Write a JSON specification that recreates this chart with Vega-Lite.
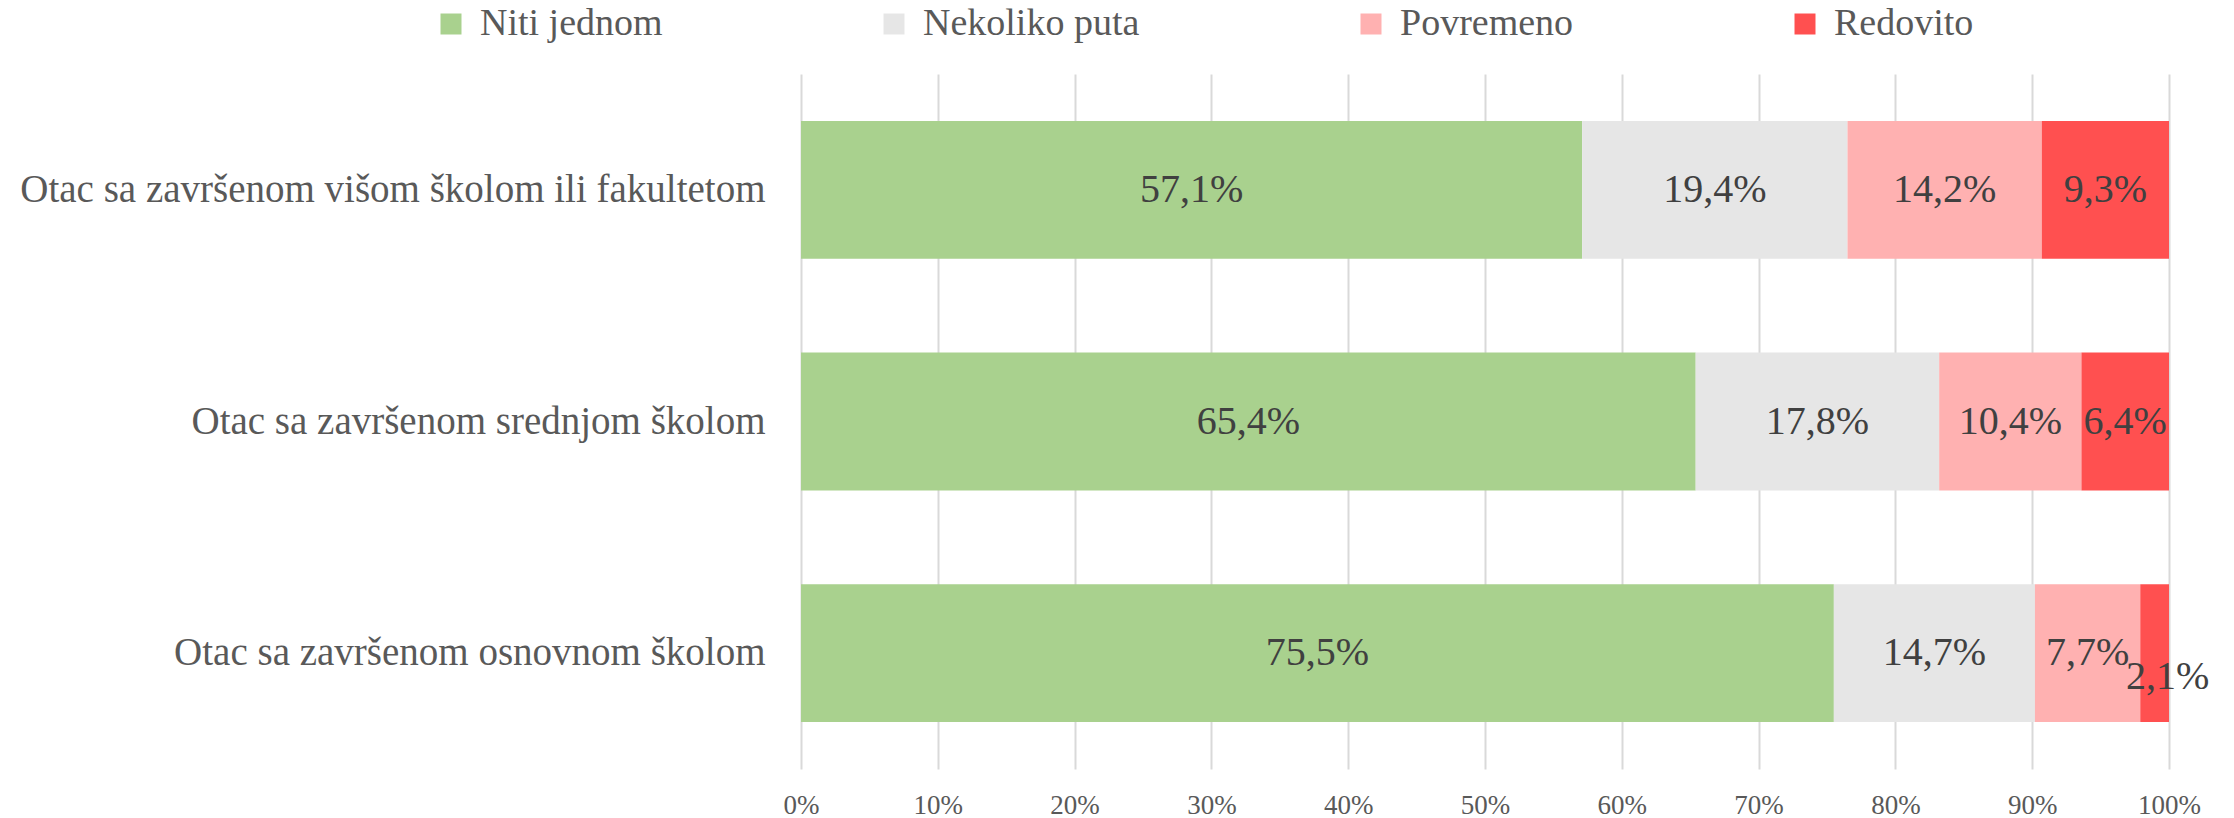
{
  "$schema": "https://vega.github.io/schema/vega-lite/v6.json",
  "width": 1368,
  "height": 695,
  "autosize": "none",
  "padding": {"left": 801, "top": 74, "right": 65, "bottom": 49},
  "background": "white",
  "data": {
    "values": [
      {"grupa": "Otac sa završenom višom školom ili fakultetom", "odgovor": "Niti jednom", "red": 1, "v": 0.571},
      {"grupa": "Otac sa završenom višom školom ili fakultetom", "odgovor": "Nekoliko puta", "red": 2, "v": 0.194},
      {"grupa": "Otac sa završenom višom školom ili fakultetom", "odgovor": "Povremeno", "red": 3, "v": 0.142},
      {"grupa": "Otac sa završenom višom školom ili fakultetom", "odgovor": "Redovito", "red": 4, "v": 0.093},
      {"grupa": "Otac sa završenom srednjom školom", "odgovor": "Niti jednom", "red": 1, "v": 0.654},
      {"grupa": "Otac sa završenom srednjom školom", "odgovor": "Nekoliko puta", "red": 2, "v": 0.178},
      {"grupa": "Otac sa završenom srednjom školom", "odgovor": "Povremeno", "red": 3, "v": 0.104},
      {"grupa": "Otac sa završenom srednjom školom", "odgovor": "Redovito", "red": 4, "v": 0.064},
      {"grupa": "Otac sa završenom osnovnom školom", "odgovor": "Niti jednom", "red": 1, "v": 0.755},
      {"grupa": "Otac sa završenom osnovnom školom", "odgovor": "Nekoliko puta", "red": 2, "v": 0.147},
      {"grupa": "Otac sa završenom osnovnom školom", "odgovor": "Povremeno", "red": 3, "v": 0.077},
      {"grupa": "Otac sa završenom osnovnom školom", "odgovor": "Redovito", "red": 4, "v": 0.021}
    ]
  },
  "transform": [
    {"stack": "v", "groupby": ["grupa"], "sort": [{"field": "red", "order": "ascending"}], "as": ["x0", "x1"]},
    {"calculate": "(datum.x0 + datum.x1) / 2", "as": "xm"}
  ],
  "encoding": {
    "y": {
      "field": "grupa",
      "type": "nominal",
      "sort": ["Otac sa završenom višom školom ili fakultetom", "Otac sa završenom srednjom školom", "Otac sa završenom osnovnom školom"],
      "scale": {"paddingInner": 0.405, "paddingOuter": 0.2025},
      "axis": {
        "title": null,
        "ticks": false,
        "domain": false,
        "labelFont": "Liberation Serif",
        "labelFontSize": 39,
        "labelColor": "#595959",
        "labelPadding": 36,
        "labelLimit": 900
      }
    }
  },
  "layer": [
    {
      "mark": {"type": "bar", "strokeWidth": 0},
      "encoding": {
        "x": {
          "field": "x0",
          "type": "quantitative",
          "scale": {"domain": [0, 1], "nice": false},
          "axis": {
            "title": null,
            "values": [0, 0.1, 0.2, 0.3, 0.4, 0.5, 0.6, 0.7, 0.8, 0.9, 1],
            "format": ".0%",
            "grid": true,
            "gridColor": "#D9D9D9",
            "gridWidth": 2,
            "ticks": false,
            "domain": false,
            "labelFlush": false,
            "labelFont": "Liberation Serif",
            "labelFontSize": 27,
            "labelColor": "#595959",
            "labelBaseline": "middle",
            "labelPadding": 36
          }
        },
        "x2": {"field": "x1"},
        "color": {
          "field": "odgovor",
          "type": "nominal",
          "sort": ["Niti jednom", "Nekoliko puta", "Povremeno", "Redovito"],
          "scale": {
            "domain": ["Niti jednom", "Nekoliko puta", "Povremeno", "Redovito"],
            "range": ["#A9D18E", "#E6E6E6", "#FFB1B1", "#FF5050"]
          },
          "legend": {
            "title": null,
            "orient": "none",
            "direction": "horizontal",
            "legendX": -369,
            "legendY": -69,
            "symbolType": "square",
            "symbolSize": 441,
            "symbolStrokeWidth": 0,
            "labelFont": "Liberation Serif",
            "labelFontSize": 38,
            "labelColor": "#595959",
            "labelOffset": 10,
            "columnPadding": 212,
            "padding": 0,
            "labelLimit": 400
          }
        }
      }
    },
    {
      "transform": [{"filter": "datum.v > 0.025"}],
      "mark": {"type": "text", "font": "Liberation Serif", "fontSize": 40, "color": "#404040", "align": "center", "baseline": "middle"},
      "encoding": {
        "x": {"field": "xm", "type": "quantitative"},
        "text": {"field": "v", "type": "quantitative", "format": ".1%"}
      }
    },
    {
      "transform": [{"filter": "datum.v <= 0.025"}],
      "mark": {"type": "text", "font": "Liberation Serif", "fontSize": 40, "color": "#404040", "align": "center", "baseline": "middle", "dx": 13, "dy": 24},
      "encoding": {
        "x": {"field": "xm", "type": "quantitative"},
        "text": {"field": "v", "type": "quantitative", "format": ".1%"}
      }
    }
  ],
  "config": {
    "view": {"stroke": null},
    "locale": {
      "number": {"decimal": ",", "thousands": ".", "grouping": [3], "currency": ["", " €"]}
    }
  }
}
